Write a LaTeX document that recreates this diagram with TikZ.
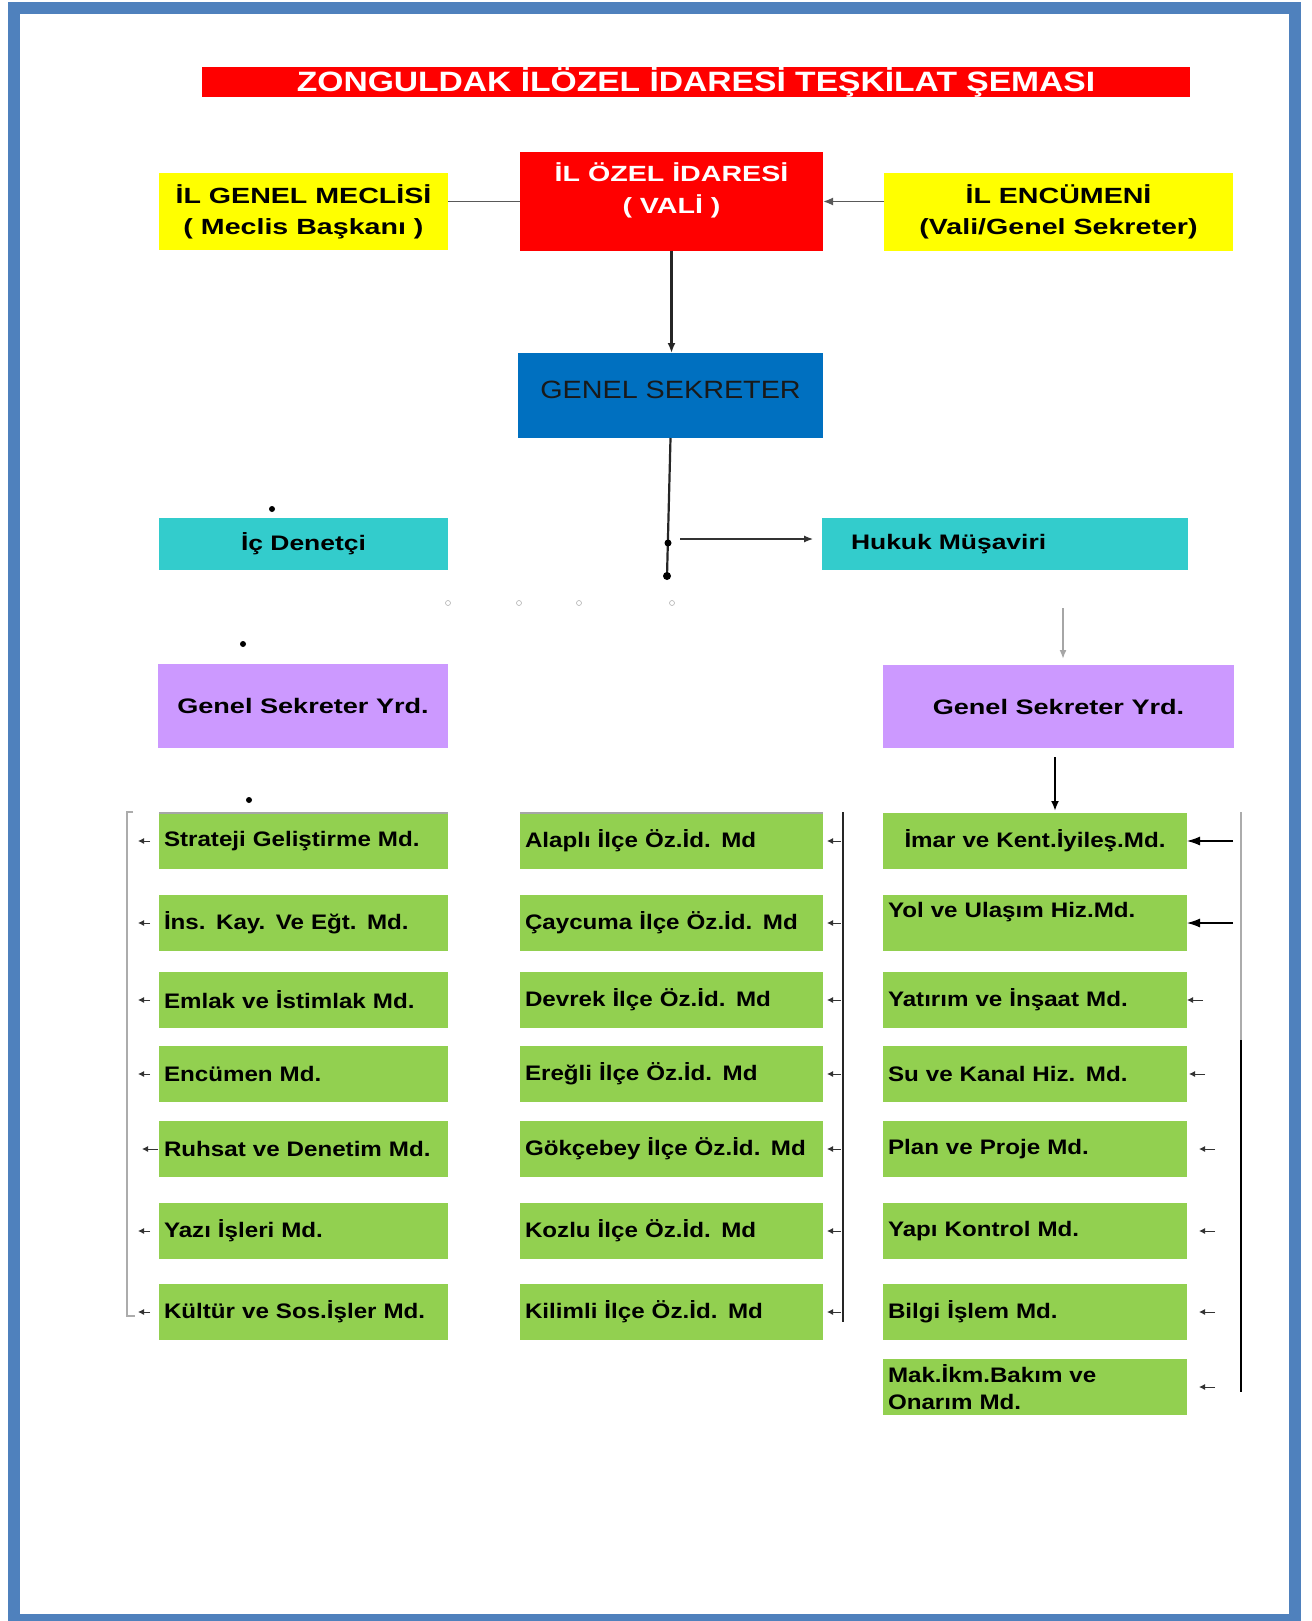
\documentclass[tikz,border=0pt]{standalone}
\usepackage{fontspec}
\setmainfont{Liberation Sans}
\newfontfamily\ftitle{Liberation Sans}[FakeStretch=1.2]
\newfontfamily\fyel{Liberation Sans}[FakeStretch=1.3]
\newfontfamily\fcyan{Liberation Sans}[FakeStretch=1.26]
\newfontfamily\fpur{Liberation Sans}[FakeStretch=1.29]
\newfontfamily\fgrn{Liberation Sans}[FakeStretch=1.15]
\usetikzlibrary{arrows.meta}
\definecolor{framec}{HTML}{4F81BD}
\definecolor{cred}{HTML}{FF0000}
\definecolor{cyel}{HTML}{FFFF00}
\definecolor{cblue}{HTML}{0070C0}
\definecolor{ccyan}{HTML}{33CCCC}
\definecolor{cpur}{HTML}{CC99FF}
\definecolor{cgrn}{HTML}{92D050}
\tikzset{
  box/.style={inner sep=0pt, outer sep=0pt, draw=none},
  ttl/.style={box, fill=cred, text=white, font=\ftitle\bfseries\fontsize{28}{32}\selectfont},
  redbox/.style={box, fill=cred},
  redtext/.style={box, align=center, text=white, font=\fyel\bfseries\fontsize{22}{32}\selectfont},
  yel/.style={box, fill=cyel, align=center, font=\fyel\bfseries\fontsize{22}{31}\selectfont},
  gsbox/.style={box, fill=cblue, text=black!90, font=\fgrn\fontsize{25}{30}\selectfont},
  cyanbox/.style={box, fill=ccyan, font=\fcyan\bfseries\fontsize{21}{26}\selectfont},
  pur/.style={box, fill=cpur, font=\fpur\bfseries\fontsize{21}{26}\selectfont},
  grn/.style={box, fill=cgrn, align=left, inner xsep=5pt, minimum height=56pt, font=\fgrn\bfseries\fontsize{21}{27}\selectfont},
  gl/.style={grn, text width=279pt},
  gm/.style={grn, text width=293pt},
  gr/.style={grn, text width=294pt},
  ln/.style={draw=black!85, line width=2.2pt},
  arr/.style={ln, -{Latex[length=10pt,width=8pt]}},
  bigarr/.style={draw=black, line width=1.1pt, -{Latex[length=13pt,width=9pt]}},
  sarr/.style={draw=black!80, line width=0.9pt, -{Latex[length=6pt,width=6pt]}},
  dbl/.style={draw=gray!65, line width=2.2pt},
  thk/.style={draw=black, line width=2.6pt},
  dotm/.style={fill=black},
}
\begin{document}
\begin{tikzpicture}[x=1pt,y=-1pt]
\useasboundingbox (0,0) rectangle (1311,1621);
\fill[white] (0,0) rectangle (1311,1621);
\draw[framec, line width=12pt] (14,8) rectangle (1295,1620);

% title
\node[ttl, minimum width=988pt, minimum height=30pt] (title) at (696,82) {ZONGULDAK İLÖZEL İDARESİ TEŞKİLAT ŞEMASI};

% top row
\node[redbox, minimum width=303pt, minimum height=99pt] (vali) at (671.5,201.5) {};
\node[redtext] (valit) at (671.5,190) {İL ÖZEL İDARESİ\\( VALİ )};
\node[yel, minimum width=289pt, minimum height=77pt] (meclis) at (303.5,211.5) {İL GENEL MECLİSİ\\( Meclis Başkanı )};
\node[yel, minimum width=349pt, minimum height=78pt] (encumen) at (1058.5,212) {İL ENCÜMENİ\\(Vali/Genel Sekreter)};

\node[gsbox, minimum width=305pt, minimum height=85pt, text height=20pt, text depth=15pt] (gs) at (670.5,395.5) {GENEL SEKRETER};

\node[cyanbox, minimum width=289pt, minimum height=52pt] (icden) at (303.5,544) {İç Denetçi};
\node[cyanbox, inner xsep=29pt, text width=308pt, align=left, minimum height=52pt] (hukuk) at (1005,544) {Hukuk Müşaviri};

\node[pur, minimum width=290pt, minimum height=84pt] (gsyl) at (303,706) {Genel Sekreter Yrd.};
\node[pur, minimum width=351pt, minimum height=83pt] (gsyr) at (1058.5,706.5) {Genel Sekreter Yrd.};

% left column
\node[gl] (l1) at (303.5,841) {Strateji Geliştirme Md.};
\node[gl] (l2) at (303.5,923) {İns. Kay. Ve Eğt. Md.};
\node[gl] (l3) at (303.5,1000) {Emlak ve İstimlak Md.};
\node[gl] (l4) at (303.5,1074) {Encümen Md.};
\node[gl] (l5) at (303.5,1149) {Ruhsat ve Denetim Md.};
\node[gl] (l6) at (303.5,1231) {Yazı İşleri Md.};
\node[gl] (l7) at (303.5,1312) {Kültür ve Sos.İşler Md.};

% middle column
\node[gm] (m1) at (671.5,841) {Alaplı İlçe Öz.İd. Md};
\node[gm] (m2) at (671.5,923) {Çaycuma İlçe Öz.İd. Md};
\node[gm] (m3) at (671.5,1000) {Devrek İlçe Öz.İd. Md};
\node[gm] (m4) at (671.5,1074) {Ereğli İlçe Öz.İd. Md};
\node[gm] (m5) at (671.5,1149) {Gökçebey İlçe Öz.İd. Md};
\node[gm] (m6) at (671.5,1231) {Kozlu İlçe Öz.İd. Md};
\node[gm] (m7) at (671.5,1312) {Kilimli İlçe Öz.İd. Md};

% right column
\node[gr, align=center] (r1) at (1035,841) {İmar ve Kent.İyileş.Md.};
\node[gr, text height=15pt, text depth=26pt] (r2) at (1035,923) {Yol ve Ulaşım Hiz.Md.};
\node[gr] (r3) at (1035,1000) {Yatırım ve İnşaat Md.};
\node[gr] (r4) at (1035,1074) {Su ve Kanal Hiz. Md.};
\node[gr] (r5) at (1035,1149) {Plan ve Proje Md.};
\node[gr] (r6) at (1035,1231) {Yapı Kontrol Md.};
\node[gr] (r7) at (1035,1312) {Bilgi İşlem Md.};
\node[gr] (r8) at (1035,1387) {Mak.İkm.Bakım ve\\Onarım Md.};

% top connectors
\draw[ln, line width=1.8pt, draw=black!65] (vali.west) -- (vali.west -| meclis.east);
\draw[arr, line width=1.8pt, draw=black!65] (vali.east -| encumen.west) -- (vali.east);
\draw[arr] (vali.south) -- (vali.south |- gs.north);

% genel sekreter trunk
\coordinate (j1) at (668,543);
\coordinate (j2) at (667,576);
\draw[ln] (gs.south) -- (j2);
\fill[dotm] (j1) circle (3.5pt);
\fill[dotm] (j2) circle (4pt);
\coordinate (h0) at (680,539);
\draw[sarr, line width=1.2pt, -{Latex[length=9pt,width=7pt]}, shorten >=9pt] (h0) -- (h0 -| hukuk.west);

% right GSY arrows
\coordinate (ra) at (1063,608);
\draw[draw=gray!70, line width=1.8pt, -{Latex[length=9pt,width=7pt]}, shorten >=6pt] (ra) -- (ra |- gsyr.north);
\coordinate (rb) at (1055,757);
\draw[draw=black, line width=2pt, -{Latex[length=10pt,width=8pt]}, shorten >=2pt] (rb) -- (rb |- r1.north);

% small markers
\fill[dotm] (272,509) circle (3pt);
\fill[dotm] (243,644) circle (3pt);
\fill[dotm] (249,800) circle (3pt);
\foreach \xx in {448,519,579,672} \draw[gray!60, line width=0.6pt] (\xx,603) circle (2.5pt);

% left bracket
\coordinate (lbT) at (127,812);
\coordinate (lbB) at (127,1316);
\draw[dbl] ([xshift=6pt]lbT) -- (lbT) -- (lbB) -- ([xshift=8pt]lbB);
\foreach \i in {1,2,3,4,6,7} \draw[sarr, shorten <=9pt, shorten >=11pt] (l\i.west) -- (l\i.west -| lbT);
\draw[sarr, shorten <=1pt, shorten >=15pt] (l5.west) -- (l5.west -| lbT);
\draw[draw=gray!70, line width=1.4pt] (l1.north west) -- (l1.north east);

% middle bracket
\coordinate (mbT) at (843,812);
\coordinate (mbB) at (843,1322);
\draw[thk, line width=2.2pt, draw=black!85] (mbT) -- (mbB);
\foreach \i in {1,...,7} \draw[sarr, shorten <=2pt, shorten >=4pt] (m\i.east -| mbT) -- (m\i.east);
\draw[draw=gray!70, line width=1.4pt] (m1.north west) -- (m1.north east);

% right bracket
\coordinate (rbT) at (1241,812);
\coordinate (rbM) at (1241,1040);
\coordinate (rbB) at (1241,1392);
\draw[dbl] (rbT) -- (rbM);
\draw[thk] (rbM) -- (rbB);
\draw[bigarr, shorten <=8pt] (r1.east -| rbT) -- (r1.east);
\draw[bigarr, shorten <=8pt] (r2.east -| rbT) -- (r2.east);
\draw[sarr, shorten <=38pt, shorten >=0pt] (r3.east -| rbT) -- (r3.east);
\draw[sarr, shorten <=36pt, shorten >=2pt] (r4.east -| rbT) -- (r4.east);
\foreach \i in {5,6,7,8} \draw[sarr, shorten <=26pt, shorten >=12pt] (r\i.east -| rbT) -- (r\i.east);
\end{tikzpicture}
\end{document}
